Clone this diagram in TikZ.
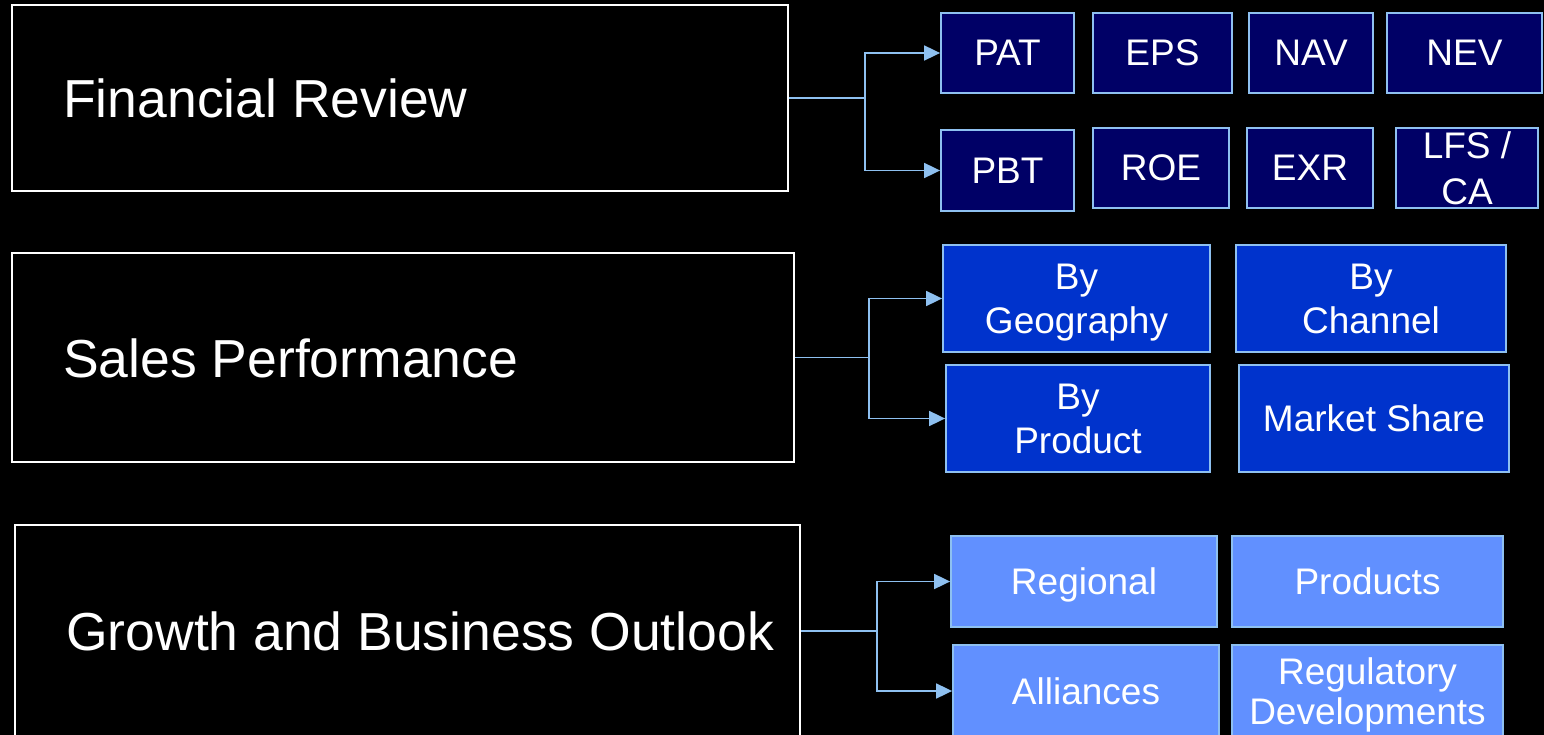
\documentclass[tikz,border=0pt]{standalone}
\usepackage{fontspec}
\setmainfont{Liberation Sans}
\usetikzlibrary{arrows.meta}
\definecolor{navybox}{RGB}{0,0,102}
\definecolor{bluebox}{RGB}{0,51,204}
\definecolor{lightbox}{RGB}{97,144,255}
\definecolor{edgeblue}{RGB}{142,192,240}
\tikzset{
  bigbox/.style={draw=white, line width=1.8pt},
  bigtext/.style={text=white, inner sep=0pt, font=\fontsize{53.5}{60}\selectfont},
  smallbox/.style={draw=edgeblue, line width=1.8pt, text=white, inner sep=0pt,
    align=center, text depth=0pt, font=\fontsize{37}{44}\selectfont},
  navy/.style={smallbox, fill=navybox},
  blue/.style={smallbox, fill=bluebox},
  light/.style={smallbox, fill=lightbox},
  conn/.style={draw=edgeblue, line width=1.8pt},
  arr/.style={conn, -{Triangle[length=16pt,width=15pt]}},
}
\begin{document}
\begin{tikzpicture}[x=1pt,y=-1pt]
\fill[black] (0,0) rectangle (1544,735);
\clip (0,0) rectangle (1544,735);
\useasboundingbox (0,0) rectangle (1544,735);

% left boxes
\node[bigbox, minimum width=776pt, minimum height=186pt, inner sep=0pt] (fin) at (400,98) {};
\node[bigbox, minimum width=782pt, minimum height=209pt, inner sep=0pt] (sales) at (403,357.5) {};
\node[bigbox, minimum width=785pt, minimum height=212pt, inner sep=0pt] (growth) at (407.5,631) {};
\node[bigtext, anchor=base west] (tfin) at (63,118) {Financial Review};
\node[bigtext, anchor=base west] (tsales) at (63,377) {Sales Performance};
\node[bigtext, anchor=base west] (tgrowth) at (66,650) {Growth and Business Outlook};

% row 1
\node[navy, minimum width=133pt, minimum height=80pt] (pat) at (1007.5,53) {PAT};
\node[navy, minimum width=139pt, minimum height=80pt] (eps) at (1162.5,53) {EPS};
\node[navy, minimum width=124pt, minimum height=80pt] (nav) at (1311,53) {NAV};
\node[navy, minimum width=155pt, minimum height=80pt] (nev) at (1464.5,53) {NEV};
\node[navy, minimum width=133pt, minimum height=81pt] (pbt) at (1007.5,170.5) {PBT};
\node[navy, minimum width=136pt, minimum height=80pt] (roe) at (1161,168) {ROE};
\node[navy, minimum width=126pt, minimum height=80pt] (exr) at (1310,168) {EXR};
\node[navy, minimum width=142pt, minimum height=80pt, font=\fontsize{37}{46}\selectfont] (lfs) at (1467,168) {LFS /\\CA};

% row 2
\node[blue, minimum width=267pt, minimum height=107pt] (geo) at (1076.5,298.5) {By\\Geography};
\node[blue, minimum width=270pt, minimum height=107pt] (chan) at (1371,298.5) {By\\Channel};
\node[blue, minimum width=264pt, minimum height=107pt] (prod) at (1078,418.5) {By\\Product};
\node[blue, minimum width=270pt, minimum height=107pt] (mkt) at (1374,418.5) {Market Share};

% row 3
\node[light, minimum width=266pt, minimum height=91pt] (reg) at (1084,581.5) {Regional};
\node[light, minimum width=271pt, minimum height=91pt] (prods) at (1367.5,581.5) {Products};
\node[light, minimum width=266pt, minimum height=92pt] (all) at (1086,691) {Alliances};
\node[light, minimum width=271pt, minimum height=92pt, font=\fontsize{37}{40}\selectfont] (regdev) at (1367.5,691) {Regulatory\\Developments};

% connectors
\coordinate (j1) at (865,98);
\coordinate (j2) at (869,357.5);
\coordinate (j3) at (877,631);
\draw[conn] (fin.east) -- (j1);
\draw[arr] (j1) |- (pat.west);
\draw[arr] (j1) |- (pbt.west);
\draw[conn] (sales.east) -- (j2);
\draw[arr] (j2) |- (geo.west);
\draw[arr] (j2) |- (prod.west);
\draw[conn] (growth.east) -- (j3);
\draw[arr] (j3) |- (reg.west);
\draw[arr] (j3) |- (all.west);
\end{tikzpicture}
\end{document}
